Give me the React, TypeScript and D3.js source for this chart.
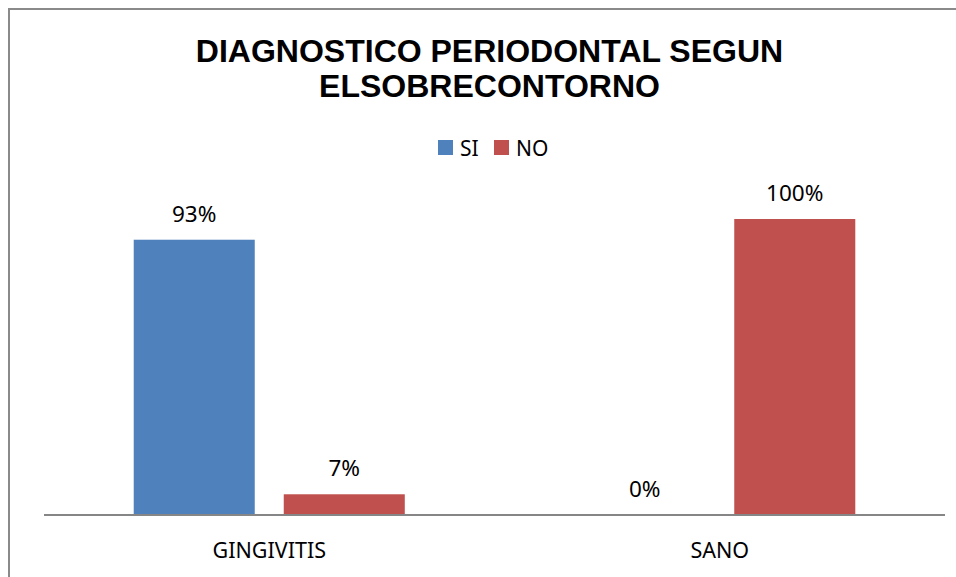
import React from "react";
import * as d3 from "d3";

const categories = ["GINGIVITIS", "SANO"];
const seriesNames = ["SI", "NO"];
const siValues = [93, 0];
const noValues = [7, 100];
const titleLines = ["DIAGNOSTICO PERIODONTAL SEGUN", "ELSOBRECONTORNO"];
const colors = ["#4F81BD", "#C0504D"];

const W = 956;
const H = 577;

export default function App() {
  const x0 = d3.scaleBand<string>().domain(categories).range([44, 945]).padding(0);
  const x1 = d3
    .scaleBand<string>()
    .domain(seriesNames)
    .range([0, x0.bandwidth()])
    .paddingInner(0.1933)
    .paddingOuter(0.598);
  const y = d3.scaleLinear().domain([0, 100]).range([515, 219]);
  const values = [siValues, noValues];
  const bodyFont = "'Noto Sans', sans-serif";

  return (
    <svg
      width={W}
      height={H}
      style={{ position: "absolute", left: 0, top: 0, display: "block", background: "#fff" }}
    >
      <rect x={9} y={9} width={980} height={600} fill="#fff" stroke="#8a8a8a" strokeWidth={2} />
      {titleLines.map((t, i) => (
        <text
          key={t}
          x={489.5}
          y={62 + i * 35}
          textAnchor="middle"
          fontFamily="'Liberation Sans', Arial, sans-serif"
          fontWeight="bold"
          fontSize={32}
          fill="#000"
        >
          {t}
        </text>
      ))}
      {/* legend */}
      <g fontFamily={bodyFont} fontSize={21} fill="#000">
        <rect x={438} y={140} width={15} height={15} fill={colors[0]} />
        <text x={460} y={156}>{seriesNames[0]}</text>
        <rect x={494} y={140} width={15} height={15} fill={colors[1]} />
        <text x={516} y={156}>{seriesNames[1]}</text>
      </g>
      {/* bars */}
      {categories.map((c, ci) => (
        <g key={c} transform={`translate(${x0(c)},0)`}>
          {seriesNames.map((s, si) => {
            const v = values[si][ci];
            const bx = x1(s)!;
            return (
              <g key={s}>
                {v > 0 && (
                  <rect x={bx} y={y(v)} width={x1.bandwidth()} height={y(0) - y(v)} fill={colors[si]} />
                )}
                <text
                  x={bx + x1.bandwidth() / 2}
                  y={y(v) - 18}
                  textAnchor="middle"
                  fontFamily={bodyFont}
                  fontSize={22.5}
                  fill="#000"
                >
                  {v}%
                </text>
              </g>
            );
          })}
          <text
            x={x0.bandwidth() / 2}
            y={558}
            textAnchor="middle"
            fontFamily={bodyFont}
            fontSize={21.5}
            fill="#000"
          >
            {c}
          </text>
        </g>
      ))}
      <line x1={44} x2={945} y1={515} y2={515} stroke="#868686" strokeWidth={2} />
    </svg>
  );
}
